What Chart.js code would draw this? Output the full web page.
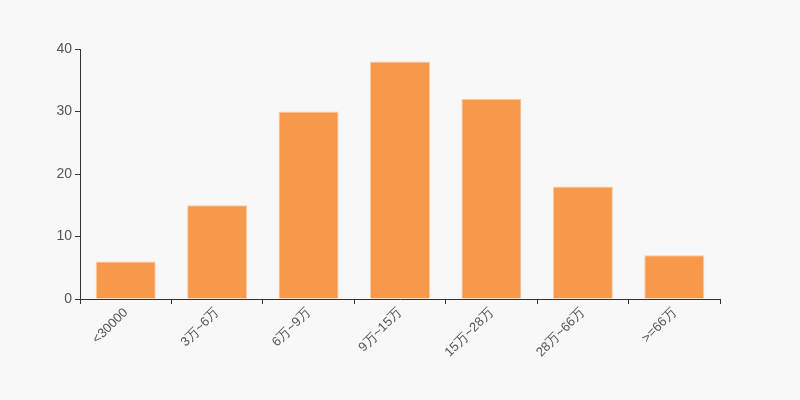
<!DOCTYPE html>
<html><head><meta charset="utf-8">
<script src="https://cdn.jsdelivr.net/npm/chart.js@4/dist/chart.umd.min.js"></script>
<style>html,body{margin:0;padding:0;background:#f8f8f8;}#wrap{width:800px;height:400px;}</style>
</head><body><div id="wrap"><canvas id="c" width="800" height="400"></canvas></div>
<script>
const categories = ['<30000','3万~6万','6万~9万','9万~15万','15万~28万','28万~66万','>=66万'];
const values = [6, 15, 30, 38, 32, 18, 7];
const yTicks = [0, 10, 20, 30, 40];

new Chart(document.getElementById('c'), {
  type: 'bar',
  data: { labels: categories, datasets: [{ data: values, backgroundColor: '#f7994a', borderColor: '#fbc9a0', borderWidth: 1, borderSkipped: 'bottom', categoryPercentage: 1, barPercentage: 0.656 }] },
  options: {
    responsive: false, animation: false,
    layout: { padding: { left: 0, right: 80, top: 49, bottom: 0 } },
    plugins: { legend: { display: false }, tooltip: { enabled: false } },
    scales: {
      x: {
        grid: { drawOnChartArea: false, drawTicks: true, tickLength: 5, color: '#333', offset: true },
        border: { display: true, color: '#333', width: 1 },
        ticks: { color: '#555', font: { family: 'Liberation Sans, Arial, sans-serif', size: 13 }, maxRotation: 45, minRotation: 45, padding: 1, autoSkip: false },
        afterFit: s => { s.height = 101; }
      },
      y: {
        min: 0, max: 40,
        afterBuildTicks: s => { s.ticks = yTicks.map(v => ({ value: v })); },
        grid: { drawOnChartArea: false, drawTicks: true, tickLength: 5, color: '#333' },
        border: { display: true, color: '#333', width: 1 },
        ticks: { color: '#555', font: { family: 'Liberation Sans, Arial, sans-serif', size: 14 }, padding: 3 },
        afterFit: s => { s.width = 80; }
      }
    }
  }
});
</script></body></html>
